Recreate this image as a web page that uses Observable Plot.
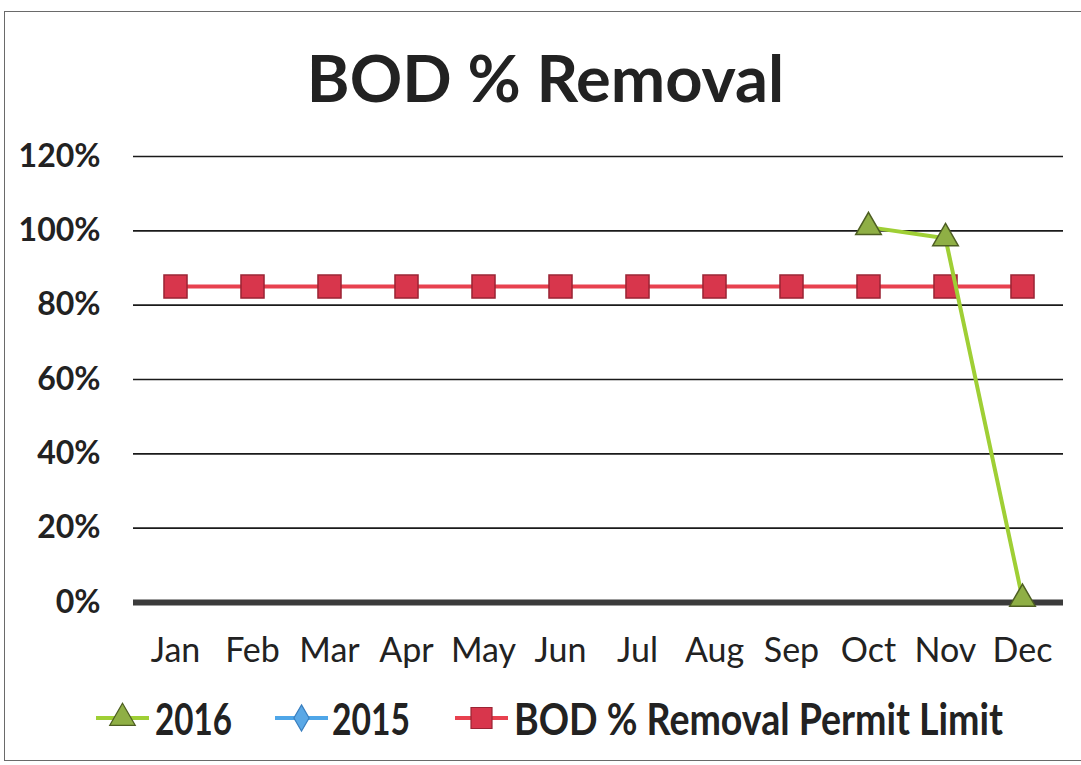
<!DOCTYPE html>
<html><head><meta charset="utf-8">
<script src="https://cdn.jsdelivr.net/npm/d3@7"></script>
<script src="https://cdn.jsdelivr.net/npm/@observablehq/plot@0.6"></script>
<style>
body{margin:0;background:#fff;}
#wrap{position:relative;width:1081px;height:765px;overflow:hidden;background:#fff;font-family:Lato, sans-serif;}
#frame{position:absolute;left:4px;top:11px;width:1100px;height:748px;border:1.5px solid #6a6a6a;}
#title{position:absolute;left:5px;width:1081px;top:39px;text-align:center;font-weight:bold;font-size:65px;color:#222;line-height:76px;white-space:nowrap;}
#chart{position:absolute;left:0;top:120px;}
#legend{position:absolute;left:0;top:680px;}
</style></head>
<body>
<div id="wrap">
  <div id="frame"></div>
  <div id="title">BOD % Removal</div>
  <div id="chart"></div>
  <svg id="legend" width="1081" height="80"></svg>
</div>
<script>
const months = ["Jan","Feb","Mar","Apr","May","Jun","Jul","Aug","Sep","Oct","Nov","Dec"];
const values2016 = [null,null,null,null,null,null,null,null,null,101,98,1];
const values2015 = [null,null,null,null,null,null,null,null,null,null,null,null];
const permitLimit = [85,85,85,85,85,85,85,85,85,85,85,85];
const yTicks = [0,20,40,60,80,100,120];
const seriesNames = ["2016","2015","BOD % Removal Permit Limit"];

const rows2016 = months.map((m,i)=>({month:m, v:values2016[i]})).filter(d=>d.v!=null);
const rows2015 = months.map((m,i)=>({month:m, v:values2015[i]})).filter(d=>d.v!=null);
const rowsPermit = months.map((m,i)=>({month:m, v:permitLimit[i]}));

const chart = Plot.plot({
  width:1081, height:560,
  marginLeft:133, marginRight:18, marginTop:36, marginBottom:78,
  x:{type:"point", domain:months, padding:0.5, label:null},
  y:{domain:[0,120], label:null},
  style:{fontFamily:"Lato, sans-serif", background:"transparent", color:"#222"},
  marks:[
    Plot.ruleY(yTicks.filter(d=>d>0), {stroke:"#1a1a1a", strokeWidth:1.6}),
    Plot.ruleY([0], {stroke:"#3b3b3b", strokeWidth:6}),
    Plot.axisY(yTicks, {tickSize:0, tickPadding:33, tickFormat:d=>d+"%", fontSize:32, fontWeight:"bold", fill:"#222", label:null}),
    Plot.axisX({tickSize:0, tickPadding:35, fontSize:34, fill:"#222", label:null}),
    Plot.line(rowsPermit, {x:"month", y:"v", stroke:"#e8414f", strokeWidth:4}),
    Plot.dot(rowsPermit, {x:"month", y:"v", symbol:"square", r:13, fill:"#d8364c", stroke:"#9a2434", strokeWidth:1.5}),
    Plot.line(rows2015, {x:"month", y:"v", stroke:"#4fa6e8", strokeWidth:4}),
    Plot.dot(rows2015, {x:"month", y:"v", symbol:"diamond", r:9, fill:"#5aa8e6", stroke:"#3a7fbf"}),
    Plot.line(rows2016, {x:"month", y:"v", stroke:"#9fcf35", strokeWidth:4}),
    Plot.dot(rows2016, {x:"month", y:"v", symbol:"triangle", r:9.5, fill:"#8faf45", stroke:"#4d5e22", strokeWidth:1.5})
  ]
});
document.getElementById("chart").appendChild(chart);

// legend
const lg = d3.select("#legend");
const legendItems = [
  {name:seriesNames[0], x0:96, x1:149, color:"#9fcf35", fill:"#8faf45", edge:"#4d5e22", sym:d3.symbolTriangle, size:283, tx:155, w:77},
  {name:seriesNames[1], x0:275, x1:328, color:"#4fa6e8", fill:"#5aa8e6", edge:"#3a7fbf", sym:d3.symbolDiamond, size:200, tx:332, w:78},
  {name:seriesNames[2], x0:455, x1:508, color:"#e8414f", fill:"#d8364c", edge:"#9a2434", sym:d3.symbolSquare, size:440, tx:514, w:489}
];
const ly = 38;
legendItems.forEach(it=>{
  lg.append("line").attr("x1",it.x0).attr("x2",it.x1).attr("y1",ly).attr("y2",ly)
    .attr("stroke",it.color).attr("stroke-width",4);
  lg.append("path").attr("d",d3.symbol(it.sym,it.size)())
    .attr("transform",`translate(${(it.x0+it.x1)/2},${ly})`)
    .attr("fill",it.fill).attr("stroke",it.edge).attr("stroke-width",1.2);
  lg.append("text").text(it.name)
    .attr("transform",`translate(${it.tx},${ly+17}) scale(1,1.3)`)
    .attr("textLength",it.w).attr("lengthAdjust","spacingAndGlyphs")
    .attr("font-family","Lato, sans-serif").attr("font-weight","bold")
    .attr("font-size",34).attr("fill","#222");
});
</script>
</body></html>
